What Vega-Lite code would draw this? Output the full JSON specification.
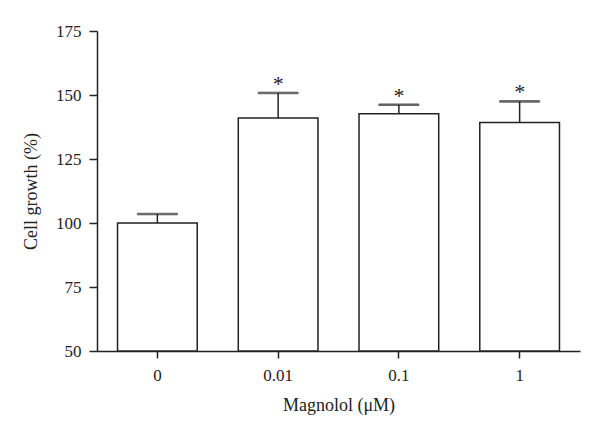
{
  "$schema": "https://vega.github.io/schema/vega-lite/v6.json",
  "autosize": "none",
  "width": 483,
  "height": 320,
  "padding": {"left": 97, "top": 31, "right": 20, "bottom": 93},
  "background": "white",
  "config": {
    "view": {"stroke": null},
    "font": "Liberation Serif",
    "axis": {
      "grid": false,
      "domainColor": "#222",
      "tickColor": "#222",
      "domainWidth": 1.5,
      "tickWidth": 1.5,
      "labelFont": "Liberation Serif",
      "titleFont": "Liberation Serif",
      "labelFontSize": 17,
      "titleFontSize": 18,
      "titleFontWeight": "normal",
      "labelColor": "#222",
      "titleColor": "#222"
    }
  },
  "data": {
    "values": [
      {"dose": "0", "value": 100, "cap": 103.5, "star": ""},
      {"dose": "0.01", "value": 141, "cap": 150.8, "star": "*"},
      {"dose": "0.1", "value": 142.7, "cap": 146.2, "star": "*"},
      {"dose": "1", "value": 139.3, "cap": 147.5, "star": "*"}
    ]
  },
  "encoding": {
    "x": {
      "field": "dose",
      "type": "nominal",
      "sort": null,
      "scale": {"paddingInner": 0.34, "paddingOuter": 0.17},
      "axis": {"labelAngle": 0, "tickSize": 7, "labelPadding": 9, "title": "Magnolol (μM)", "titlePadding": 13}
    }
  },
  "layer": [
    {
      "mark": {"type": "rule", "stroke": "#222", "strokeWidth": 1.5},
      "encoding": {
        "y": {"field": "value", "type": "quantitative"},
        "y2": {"field": "cap"}
      }
    },
    {
      "mark": {"type": "tick", "stroke": "#222", "color": "#222", "thickness": 1.5, "size": 40},
      "encoding": {
        "y": {"field": "cap", "type": "quantitative"}
      }
    },
    {
      "mark": {"type": "bar", "fill": "white", "stroke": "#222", "strokeWidth": 1.5},
      "encoding": {
        "y": {
          "field": "value",
          "type": "quantitative",
          "scale": {"domain": [50, 175], "zero": false, "nice": false},
          "axis": {"values": [50, 75, 100, 125, 150, 175], "tickSize": 8, "labelPadding": 8, "title": "Cell growth (%)", "titlePadding": 15}
        },
        "y2": {"datum": 50}
      }
    },
    {
      "mark": {"type": "text", "fontSize": 22, "baseline": "alphabetic", "dy": -2, "color": "#222", "font": "Liberation Serif"},
      "encoding": {
        "y": {"field": "cap", "type": "quantitative"},
        "text": {"field": "star"}
      }
    }
  ]
}
